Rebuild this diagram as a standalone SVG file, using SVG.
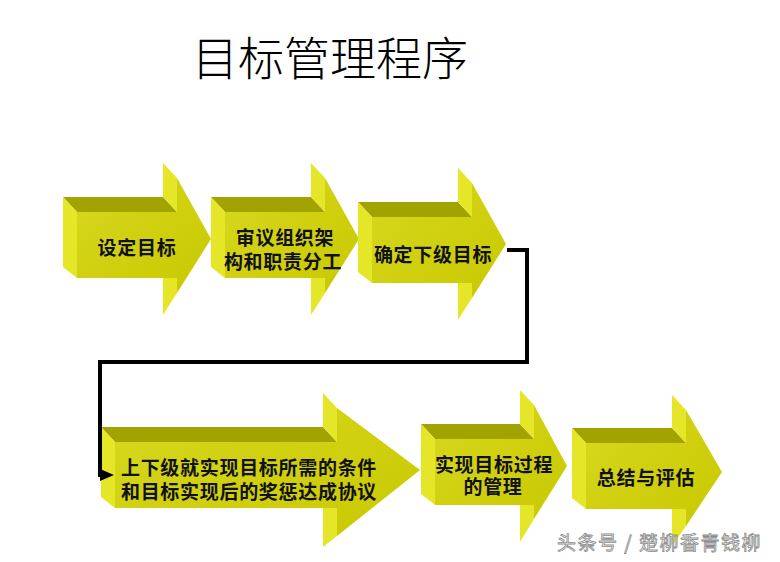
<svg xmlns="http://www.w3.org/2000/svg" width="780" height="562" viewBox="0 0 780 562">
<defs>
<style>
.top{fill:#a3a300}
.side{fill:#e6e628}
.front{fill:url(#fg)}
.lbl{font-family:"Noto Sans CJK SC","Noto Sans",sans-serif;font-weight:bold;font-size:19px;fill:#111;text-anchor:middle;letter-spacing:0.7px}
.conn{fill:none;stroke:#000;stroke-width:4;stroke-linejoin:miter}
</style>
<linearGradient id="fg" x1="0" y1="0" x2="1" y2="1">
<stop offset="0" stop-color="#d8d820"/>
<stop offset="1" stop-color="#c8c800"/>
</linearGradient>
<marker id="ah" markerWidth="14" markerHeight="12" refX="2" refY="6" orient="auto" markerUnits="userSpaceOnUse">
<path d="M0,0 L14,6 L0,12 z" fill="#000"/>
</marker>
</defs>
<rect width="780" height="562" fill="#fff"/>
<text x="192" y="75" font-family="'Noto Sans CJK SC',sans-serif" font-size="46" font-weight="300" fill="#000">目标管理程序</text>

<g id="node1">
<polygon class="top" points="63,197 163,197 177,212 77,212"/>
<polygon class="side" points="63,197 77,212 77,278 63,267"/>
<polygon class="side" points="163,163 177,178 177,212 163,197"/>
<polygon class="side" points="163,267 177,278 177,293 163,315"/>
<polygon class="front" points="77,212 177,212 177,178 211,239 177,293 177,278 77,278"/>
<text class="lbl" x="137" y="255">设定目标</text>
</g>

<g id="node2">
<polygon class="top" points="211,197 311,197 325,212 225,212"/>
<polygon class="side" points="211,197 225,212 225,278 211,267"/>
<polygon class="side" points="311,163 325,178 325,212 311,197"/>
<polygon class="side" points="311,267 325,278 325,293 311,315"/>
<polygon class="front" points="225,212 325,212 325,178 359,239 325,293 325,278 225,278"/>
<text class="lbl" x="285" y="245">审议组织架</text>
<text class="lbl" x="283" y="269">构和职责分工</text>
</g>

<g id="node3">
<polygon class="top" points="358,202 458,202 472,217 372,217"/>
<polygon class="side" points="358,202 372,217 372,283 358,272"/>
<polygon class="side" points="458,168 472,183 472,217 458,202"/>
<polygon class="side" points="458,272 472,283 472,298 458,320"/>
<polygon class="front" points="372,217 472,217 472,183 506,244 472,298 472,283 372,283"/>
<text class="lbl" x="433" y="262">确定下级目标</text>
</g>

<g id="node4">
<polygon class="top" points="101,427 323,427 337,442 115,442"/>
<polygon class="side" points="101,427 115,442 115,508 101,497"/>
<polygon class="side" points="323,393 337,408 337,442 323,427"/>
<polygon class="side" points="323,497 337,508 337,536 323,547"/>
<polygon class="front" points="115,442 337,442 337,408 420,470 337,536 337,508 115,508"/>
<text class="lbl" x="249" y="475">上下级就实现目标所需的条件</text>
<text class="lbl" x="249" y="499">和目标实现后的奖惩达成协议</text>
</g>

<g id="node5">
<polygon class="top" points="421,424 520,424 534,439 435,439"/>
<polygon class="side" points="421,424 435,439 435,505 421,494"/>
<polygon class="side" points="520,390 534,405 534,439 520,424"/>
<polygon class="side" points="520,494 534,505 534,519 520,542"/>
<polygon class="front" points="435,439 534,439 534,405 567,466 534,519 534,505 435,505"/>
<text class="lbl" x="494" y="472">实现目标过程</text>
<text class="lbl" x="493" y="494">的管理</text>
</g>

<g id="node6">
<polygon class="top" points="572,428 672,428 686,443 586,443"/>
<polygon class="side" points="572,428 586,443 586,509 572,498"/>
<polygon class="side" points="672,395 686,410 686,443 672,428"/>
<polygon class="side" points="672,498 686,509 686,526 672,546"/>
<polygon class="front" points="586,443 686,443 686,410 722,472 686,526 686,509 586,509"/>
<text class="lbl" x="646" y="485">总结与评估</text>
</g>

<g id="connectors">
<path class="conn" d="M507,250 H527 V362 H100 V475 H102" marker-end="url(#ah)"/>
</g>

<text x="557" y="550" font-family="'Noto Sans CJK SC',sans-serif" font-size="19" letter-spacing="1.5" fill="#fff" stroke="#8c8c8c" stroke-width="0.8">头条号 / 楚柳香青钱柳</text>
</svg>
